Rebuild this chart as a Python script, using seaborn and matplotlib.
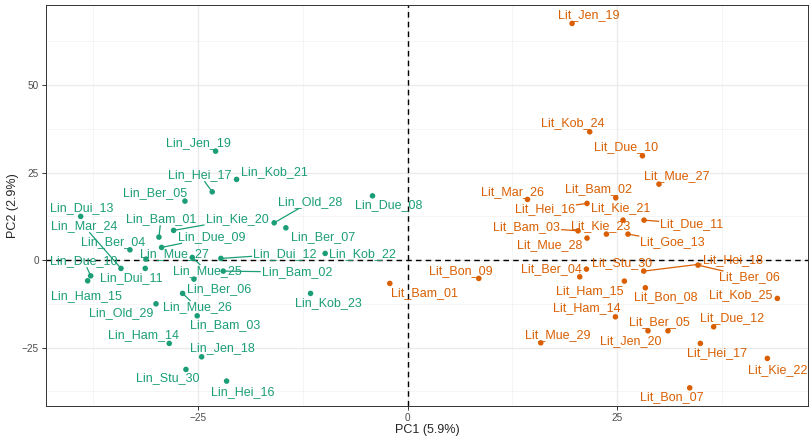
"""
PCA scatter plot (PC1 vs PC2) with repelled sample labels
"""
import matplotlib
matplotlib.use('Agg')
import matplotlib.pyplot as plt
import numpy as np
import pandas as pd
import seaborn as sns

# --- data ---
lin_names = ['Lin_Jen_19', 'Lin_Hei_17', 'Lin_Kob_21', 'Lin_Ber_05', 'Lin_Old_28', 'Lin_Due_08',
             'Lin_Dui_13', 'Lin_Bam_01', 'Lin_Kie_20', 'Lin_Mar_24', 'Lin_Due_09', 'Lin_Ber_07',
             'Lin_Ber_04', 'Lin_Mue_27', 'Lin_Dui_12', 'Lin_Kob_22', 'Lin_Due_10', 'Lin_Dui_11',
             'Lin_Mue_25', 'Lin_Bam_02', 'Lin_Ham_15', 'Lin_Ber_06', 'Lin_Mue_26', 'Lin_Old_29',
             'Lin_Bam_03', 'Lin_Kob_23', 'Lin_Ham_14', 'Lin_Jen_18', 'Lin_Stu_30', 'Lin_Hei_16']
lin_pc1 = [-22.86, -23.26, -20.36, -26.51, -15.88, -4.17, -38.93, -29.61, -27.86, -34.13,
           -29.29, -14.49, -33.06, -31.15, -22.23, -9.81, -37.74, -31.24, -25.64, -21.95,
           -38.10, -25.44, -26.79, -29.96, -25.05, -11.55, -28.38, -24.52, -26.39, -21.55]
lin_pc2 = [31.14, 19.51, 23.06, 16.86, 10.66, 18.37, 12.49, 6.57, 8.49, -2.37,
           3.63, 9.23, 2.94, 0.29, 0.49, 1.91, -4.49, -2.37, 0.77, -3.14,
           -5.91, -5.43, -9.51, -12.49, -15.91, -9.51, -23.80, -27.63, -31.23, -34.57]
lin_label_x = [-24.85, -24.73, -15.80, -30.08, -11.63, -2.23, -38.77, -29.37, -20.32, -38.54,
               -23.30, -10.08, -35.08, -27.82, -14.61, -5.32, -38.54, -32.94, -23.89, -13.18,
               -38.30, -22.46, -25.08, -34.13, -21.75, -9.37, -31.39, -22.11, -28.54, -19.61]
lin_label_y = [33.43, 24.29, 25.14, 19.14, 16.57, 15.71, 14.86, 11.71, 11.71, 9.71,
               6.57, 6.57, 5.14, 1.71, 1.71, 1.71, -0.29, -5.14, -3.14, -3.43,
               -10.29, -8.29, -13.43, -15.14, -18.57, -12.29, -21.43, -25.14, -33.71, -37.71]

lit_names = ['Lit_Jen_19', 'Lit_Kob_24', 'Lit_Due_10', 'Lit_Mue_27', 'Lit_Mar_26', 'Lit_Bam_02',
             'Lit_Hei_16', 'Lit_Kie_21', 'Lit_Due_11', 'Lit_Bam_03', 'Lit_Kie_23', 'Lit_Goe_13',
             'Lit_Mue_28', 'Lit_Bon_09', 'Lit_Bam_01', 'Lit_Ber_04', 'Lit_Stu_30', 'Lit_Hei_18',
             'Lit_Ber_06', 'Lit_Ham_15', 'Lit_Bon_08', 'Lit_Kob_25', 'Lit_Ham_14', 'Lit_Ber_05',
             'Lit_Due_12', 'Lit_Jen_20', 'Lit_Mue_29', 'Lit_Hei_17', 'Lit_Kie_22', 'Lit_Bon_07']
lit_pc1 = [19.60, 21.70, 27.98, 29.95, 14.29, 24.80, 21.38, 25.67, 28.17, 20.31,
           23.69, 26.26, 21.38, 8.49, -2.11, 20.51, 21.31, 28.13, 34.60, 25.83,
           28.33, 44.05, 24.76, 31.02, 36.46, 28.64, 15.87, 34.88, 42.86, 33.61]
lit_pc2 = [67.63, 36.66, 29.80, 21.71, 17.34, 17.80, 16.20, 11.43, 11.43, 8.37,
           7.43, 7.43, 6.29, -5.23, -6.66, -4.77, -2.57, -3.14, -1.43, -6.00,
           -7.91, -10.94, -16.20, -20.20, -19.06, -20.20, -23.63, -23.80, -28.09, -36.49]
lit_label_x = [21.58, 19.68, 26.00, 32.06, 12.46, 22.77, 16.35, 25.39, 33.85, 14.20,
               23.01, 31.58, 16.94, 6.35, 2.06, 17.18, 25.51, 38.73, 40.75, 21.70,
               30.75, 39.68, 21.35, 30.04, 38.61, 26.58, 17.89, 36.82, 44.08, 31.46]
lit_label_y = [70.00, 39.14, 32.29, 24.00, 19.43, 20.29, 14.57, 14.86, 10.29, 9.43,
               9.71, 5.14, 4.29, -3.14, -9.43, -2.57, -0.86, 0.00, -4.86, -8.86,
               -10.57, -10.00, -13.71, -17.71, -16.57, -23.14, -21.43, -26.57, -31.43, -39.14]

# labels that get a leader segment
segment_labels = {'Lin_Hei_17', 'Lin_Bam_01', 'Lin_Kie_20', 'Lin_Mar_24', 'Lin_Due_09',
                  'Lin_Old_28', 'Lin_Dui_12', 'Lin_Due_10', 'Lin_Mue_25', 'Lin_Bam_02',
                  'Lin_Mue_26', 'Lit_Hei_16', 'Lit_Bam_03', 'Lit_Hei_18', 'Lit_Ber_06',
                  'Lit_Due_11', 'Lit_Goe_13'}

colors = {'Lin': '#1b9e77', 'Lit': '#d95f02'}

df = pd.DataFrame({
    'name': lin_names + lit_names,
    'PC1': lin_pc1 + lit_pc1,
    'PC2': lin_pc2 + lit_pc2,
    'lx': lin_label_x + lit_label_x,
    'ly': lin_label_y + lit_label_y,
})
df['group'] = df['name'].str[:3]

sns.set_style('white')
plt.rcParams['font.family'] = ['Liberation Sans', 'DejaVu Sans']

W, H = 810, 437
fig = plt.figure(figsize=(W / 100, H / 100), dpi=100)
ax = fig.add_axes([46 / W, 1 - 405.7 / H, (808 - 46) / W, (405.7 - 5) / H])

ax.set_xlim(-43.06, 47.7)
ax.set_ylim(-41.6, 72.9)

# ggplot theme_bw style grid
for v in [-37.5, -12.5, 12.5, 37.5]:
    ax.axvline(v, color='#f2f2f2', lw=0.55, zorder=0)
for v in [-37.5, -12.5, 12.5, 37.5, 62.5]:
    ax.axhline(v, color='#f2f2f2', lw=0.55, zorder=0)
for v in [-25, 0, 25]:
    ax.axvline(v, color='#ebebeb', lw=1.0, zorder=0)
for v in [-25, 0, 25, 50]:
    ax.axhline(v, color='#ebebeb', lw=1.0, zorder=0)

ax.axhline(0, color='black', lw=1.0, ls=(0, (4, 3)), zorder=1)
ax.axvline(0, color='black', lw=1.0, ls=(0, (4, 3)), zorder=1)

sns.scatterplot(data=df, x='PC1', y='PC2', hue='group', palette=colors,
                s=16, edgecolor='none', legend=False, ax=ax, zorder=3)

texts = []
for _, r in df.iterrows():
    t = ax.text(r['lx'], r['ly'], r['name'], color=colors[r['group']], fontsize=9,
                ha='center', va='center', zorder=4)
    texts.append((t, r))

ax.set_xticks([-25, 0, 25])
ax.set_yticks([-25, 0, 25, 50])
ax.tick_params(axis='both', labelsize=7.2, labelcolor='#4d4d4d', color='#333333',
               length=3, width=0.7, pad=2, bottom=True, left=True)
ax.set_xlabel('PC1 (5.9%)', fontsize=9, labelpad=1)
ax.set_ylabel('PC2 (2.9%)', fontsize=9, labelpad=2)
ax.grid(False)
for s in ax.spines.values():
    s.set_color('#333333')
    s.set_linewidth(0.7)

# leader segments: from point towards label centre, stopping at label box
fig.canvas.draw()
renderer = fig.canvas.get_renderer()
inv = ax.transData.inverted()
for t, r in texts:
    if r['name'] not in segment_labels:
        continue
    bb = t.get_window_extent(renderer).expanded(1.0, 0.85)
    p = ax.transData.transform((r['PC1'], r['PC2']))
    c = np.array([(bb.x0 + bb.x1) / 2, (bb.y0 + bb.y1) / 2])
    d = p - c
    hw, hh = bb.width / 2 + 1, bb.height / 2 + 1
    tx = hw / abs(d[0]) if d[0] != 0 else np.inf
    ty = hh / abs(d[1]) if d[1] != 0 else np.inf
    q = c + min(tx, ty) * d
    dist = np.hypot(*(p - q))
    if dist < 3:
        continue
    p2 = p + (q - p) / dist * 2.0
    a = inv.transform(p2)
    b = inv.transform(q)
    ax.plot([a[0], b[0]], [a[1], b[1]], color=colors[r['group']], lw=0.9, zorder=2,
            solid_capstyle='butt')

fig.savefig('out.png', dpi=100)
